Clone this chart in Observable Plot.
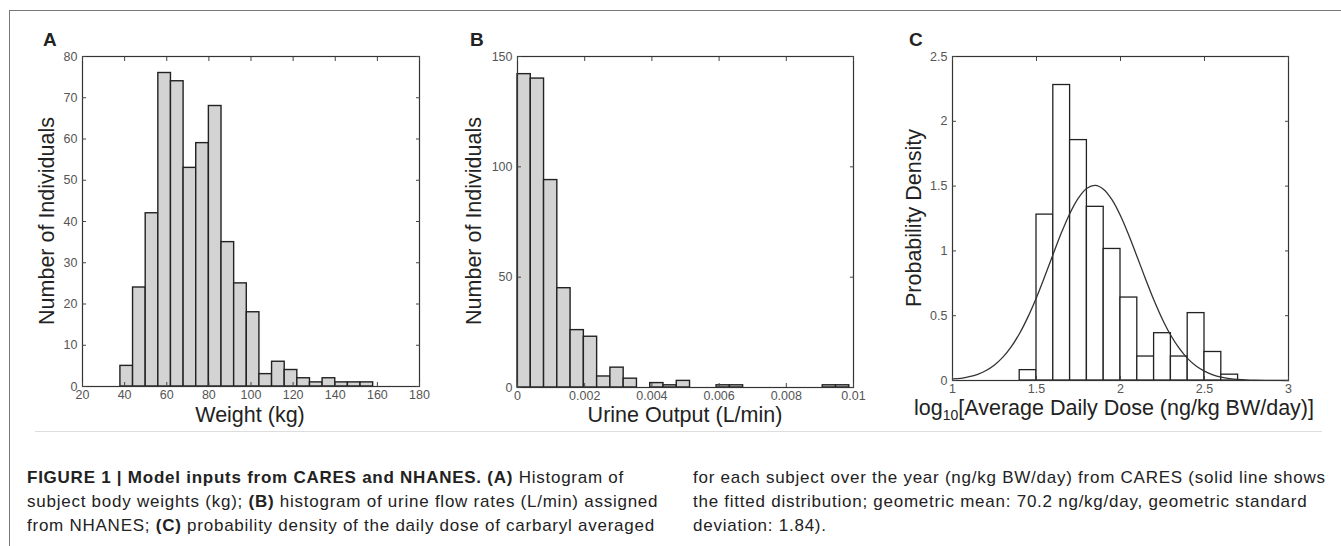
<!DOCTYPE html>
<html>
<head>
<meta charset="utf-8">
<script src="https://cdn.jsdelivr.net/npm/d3@7"></script>
<script src="https://cdn.jsdelivr.net/npm/@observablehq/plot@0.6"></script>
<style>
  html, body { margin: 0; padding: 0; background: #fff; }
  #fig { position: relative; width: 1341px; height: 546px; overflow: hidden; font-family: "Liberation Sans", Arial, sans-serif; color: #222; }
  .border { position: absolute; left: 9px; top: 10px; width: 1400px; height: 600px; border-top: 1.5px solid #777; border-left: 1.5px solid #777; }
  .sep { position: absolute; left: 35px; top: 431px; width: 1287px; height: 0; border-top: 1px solid #ddd; }
  .panel { position: absolute; top: 0; }
  .letter { position: absolute; font-weight: bold; font-size: 19px; line-height: 1; }
  .ylab, .xlab { position: absolute; font-size: 21.5px; white-space: nowrap; color: #222; line-height: 1; }
  .ylab { transform: translate(-50%, -50%) rotate(-90deg); }
  .xlab { transform: translate(-50%, -50%); }
  .cap { position: absolute; top: 466px; font-size: 17px; letter-spacing: 0.75px; line-height: 24px; color: #222; white-space: nowrap; }
  .cap b { font-weight: bold; }
</style>
</head>
<body>
<div id="fig">
  <div class="border"></div>
  <div class="sep"></div>
</div>
<script>
// ---------- Data ----------
// Panel A: body weight histogram (kg)
const weightEdges = [38, 44, 50, 56, 62, 68, 74, 80, 86, 92, 98, 104, 110, 116, 122, 128, 134, 140, 146, 152, 158];
const weightCounts = [5, 24, 42, 76, 74, 53, 59, 68, 35, 25, 18, 3, 6, 4, 2, 1, 2, 1, 1, 1];
const weightXTicks = [20, 40, 60, 80, 100, 120, 140, 160, 180];
const weightYTicks = [0, 10, 20, 30, 40, 50, 60, 70, 80];

// Panel B: urine output histogram (L/min)
const urineEdges = [0, 0.000395, 0.00079, 0.001185, 0.00158, 0.001975, 0.00237, 0.002765, 0.00316, 0.003555, 0.00395, 0.004345, 0.00474, 0.005135, 0.00553, 0.005925, 0.00632, 0.006715, 0.00711, 0.007505, 0.0079, 0.008295, 0.00869, 0.009085, 0.00948, 0.009875];
const urineCounts = [142, 140, 94, 45, 26, 23, 5, 9, 4, 0, 2, 1, 3, 0, 0, 1, 1, 0, 0, 0, 0, 0, 0, 1, 1];
const urineXTicks = [0, 0.002, 0.004, 0.006, 0.008, 0.01];
const urineYTicks = [0, 50, 100, 150];

// Panel C: probability density of log10 average daily dose
const doseEdges = [1.4, 1.5, 1.6, 1.7, 1.8, 1.9, 2.0, 2.1, 2.2, 2.3, 2.4, 2.5, 2.6, 2.7, 2.8, 2.9, 3.0];
const doseDensity = [0.08, 1.28, 2.28, 1.855, 1.34, 1.015, 0.64, 0.185, 0.365, 0.185, 0.52, 0.22, 0.045, 0, 0, 0];
const fitX = [1.0, 1.05, 1.1, 1.15, 1.2, 1.25, 1.3, 1.35, 1.4, 1.45, 1.5, 1.55, 1.6, 1.65, 1.7, 1.75, 1.8, 1.85, 1.9, 1.95, 2.0, 2.05, 2.1, 2.15, 2.2, 2.25, 2.3, 2.35, 2.4, 2.45, 2.5, 2.55, 2.6, 2.65, 2.7, 2.75, 2.8, 2.9, 3.0];
const fitY = [0.012, 0.017, 0.029, 0.048, 0.077, 0.12, 0.18, 0.261, 0.365, 0.493, 0.641, 0.806, 0.978, 1.145, 1.293, 1.409, 1.483, 1.505, 1.474, 1.393, 1.271, 1.119, 0.951, 0.78, 0.617, 0.471, 0.347, 0.247, 0.169, 0.112, 0.072, 0.044, 0.026, 0.015, 0.008, 0.004, 0.002, 0.0005, 0.0001];
const doseXTicks = [1, 1.5, 2, 2.5, 3];
const doseYTicks = [0, 0.5, 1, 1.5, 2, 2.5];

// ---------- Helpers ----------
function rows(edges, values) {
  return values.map((v, i) => ({x1: edges[i], x2: edges[i + 1], v}));
}
const fmt = d => String(d);
const blank = () => "";
function axes(xt, yt) {
  const t = {fontSize: 12.5, fill: "#555", stroke: "#444"};
  return [
    Plot.axisX({anchor: "bottom", ticks: xt, tickSize: -4, tickPadding: 8, tickFormat: fmt, label: null, ...t}),
    Plot.axisX({anchor: "top", ticks: xt, tickSize: -4, tickFormat: blank, label: null, ...t}),
    Plot.axisY({anchor: "left", ticks: yt, tickSize: -4, tickPadding: 9, tickFormat: fmt, label: null, ...t}),
    Plot.axisY({anchor: "right", ticks: yt, tickSize: -4, tickFormat: blank, label: null, ...t})
  ];
}
const plotStyle = {fontFamily: "'Liberation Sans', Arial, sans-serif", fontSize: "12.5px", color: "#555", background: "transparent", overflow: "visible"};

const fig = document.getElementById("fig");
function place(svg, left) {
  const d = document.createElement("div");
  d.className = "panel";
  d.style.left = left + "px";
  d.appendChild(svg);
  fig.appendChild(d);
}
function addDiv(cls, html, left, top) {
  const d = document.createElement("div");
  d.className = cls;
  d.innerHTML = html;
  d.style.left = left + "px";
  d.style.top = top + "px";
  fig.appendChild(d);
}

// ---------- Panel A ----------
place(Plot.plot({
  width: 440, height: 430,
  marginLeft: 82, marginRight: 21, marginTop: 56, marginBottom: 44,
  x: {domain: [20, 180]},
  y: {domain: [0, 80]},
  style: plotStyle,
  marks: [
    Plot.rect(rows(weightEdges, weightCounts), {x1: "x1", x2: "x2", y1: 0, y2: "v", fill: "#d3d3d3", stroke: "#222", strokeWidth: 1.4}),
    Plot.frame({stroke: "#333", strokeWidth: 1.2}),
    ...axes(weightXTicks, weightYTicks)
  ]
}), 0);

// ---------- Panel B ----------
place(Plot.plot({
  width: 440, height: 430,
  marginLeft: 77, marginRight: 27, marginTop: 56, marginBottom: 43,
  x: {domain: [0, 0.01]},
  y: {domain: [0, 150]},
  style: plotStyle,
  marks: [
    Plot.rect(rows(urineEdges, urineCounts), {x1: "x1", x2: "x2", y1: 0, y2: "v", fill: "#d3d3d3", stroke: "#222", strokeWidth: 1.4}),
    Plot.frame({stroke: "#333", strokeWidth: 1.2}),
    ...axes(urineXTicks, urineYTicks)
  ]
}), 440);

// ---------- Panel C ----------
place(Plot.plot({
  width: 461, height: 430,
  marginLeft: 72, marginRight: 53, marginTop: 56, marginBottom: 50,
  x: {domain: [1, 3]},
  y: {domain: [0, 2.5]},
  style: plotStyle,
  marks: [
    Plot.rect(rows(doseEdges, doseDensity), {x1: "x1", x2: "x2", y1: 0, y2: "v", fill: "white", stroke: "#222", strokeWidth: 1.3}),
    Plot.line(fitX.map((x, i) => ({x, y: fitY[i]})), {x: "x", y: "y", curve: "catmull-rom", stroke: "#333", strokeWidth: 1.3}),
    Plot.frame({stroke: "#333", strokeWidth: 1.2}),
    ...axes(doseXTicks, doseYTicks)
  ]
}), 880);

// ---------- Labels ----------
addDiv("letter", "A", 43, 30);
addDiv("letter", "B", 470, 30);
addDiv("letter", "C", 909, 30);

addDiv("ylab", "Number of Individuals", 48, 221);
addDiv("xlab", "Weight (kg)", 250, 416);
addDiv("ylab", "Number of Individuals", 475, 221);
addDiv("xlab", "Urine Output (L/min)", 685, 416);
addDiv("ylab", "Probability Density", 915, 218);
addDiv("xlab", "log<sub style=\"font-size:14px;vertical-align:-5px;line-height:0\">10</sub>[Average Daily Dose (ng/kg BW/day)]", 1114, 409);

// ---------- Caption ----------
addDiv("cap",
  "<b>FIGURE 1 | Model inputs from CARES and NHANES. (A)</b> Histogram of<br>" +
  "subject body weights (kg); <b>(B)</b> histogram of urine flow rates (L/min) assigned<br>" +
  "from NHANES; <b>(C)</b> probability density of the daily dose of carbaryl averaged", 27, 466);
addDiv("cap",
  "for each subject over the year (ng/kg BW/day) from CARES (solid line shows<br>" +
  "the fitted distribution; geometric mean: 70.2 ng/kg/day, geometric standard<br>" +
  "deviation: 1.84).", 693, 466);
</script>
</body>
</html>
